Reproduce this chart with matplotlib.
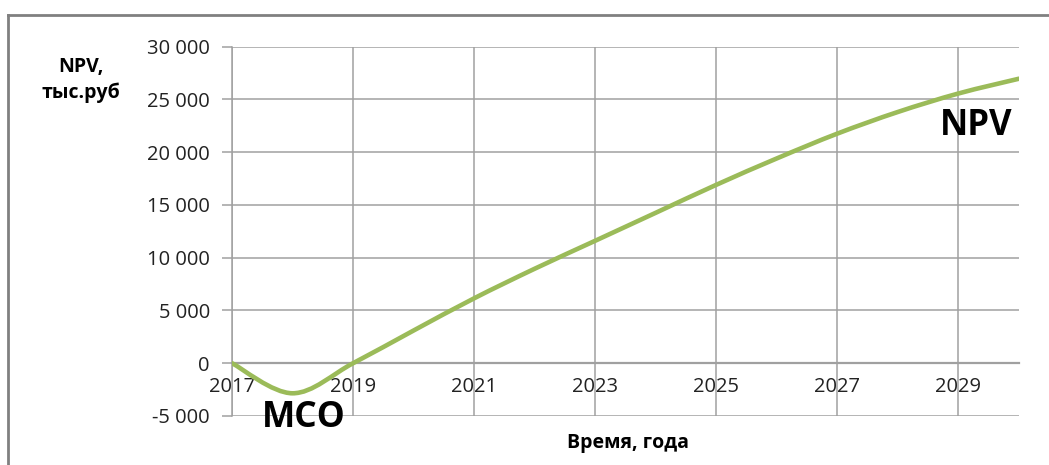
import matplotlib
matplotlib.use("Agg")
import matplotlib.pyplot as plt
from matplotlib.path import Path
from matplotlib.patches import PathPatch
from matplotlib.lines import Line2D
from matplotlib.ticker import FuncFormatter

# NPV по годам, тыс. руб
years = [2017, 2018, 2019, 2020, 2021, 2022, 2023, 2024, 2025, 2026, 2027, 2028, 2029, 2030]
npv = [0, -2850, 0, 3100, 6150, 8950, 11600, 14250, 16900, 19400, 21750, 23800, 25550, 26950]

x_ticks = [2017, 2019, 2021, 2023, 2025, 2027, 2029]
y_ticks = [-5000, 0, 5000, 10000, 15000, 20000, 25000, 30000]

GREEN = "#9BBB59"
GRID = "#A0A0A0"

plt.rcParams["font.family"] = ["Open Sans", "DejaVu Sans"]


def smooth_path(xs, ys):
    """Smoothed line through the points (Catmull-Rom style cubic Bezier)."""
    pts = list(zip(xs, ys))
    verts = [pts[0]]
    codes = [Path.MOVETO]
    n = len(pts)
    for i in range(n - 1):
        p0 = pts[i - 1] if i > 0 else pts[i]
        p1 = pts[i]
        p2 = pts[i + 1]
        p3 = pts[i + 2] if i + 2 < n else pts[i + 1]
        c1 = (p1[0] + (p2[0] - p0[0]) / 6, p1[1] + (p2[1] - p0[1]) / 6)
        c2 = (p2[0] - (p3[0] - p1[0]) / 6, p2[1] - (p3[1] - p1[1]) / 6)
        verts += [c1, c2, p2]
        codes += [Path.CURVE4] * 3
    return Path(verts, codes)


fig = plt.figure(figsize=(10.49, 4.65), dpi=100)
ax = fig.add_axes([0.2212, 0.1054, 0.7502, 0.7946])

ax.add_patch(PathPatch(smooth_path(years, npv), fill=False, edgecolor=GREEN,
                       lw=3.3, capstyle="round", zorder=3))

ax.set_xlim(2017, 2030)
ax.set_ylim(-5000, 30000)
ax.set_xticks(x_ticks)
ax.set_yticks(y_ticks)
ax.yaxis.set_major_formatter(FuncFormatter(lambda v, _: f"{int(v):,}".replace(",", " ")))

ax.grid(True, color=GRID, lw=1.1)
ax.set_axisbelow(True)

for s in ("top", "right"):
    ax.spines[s].set_visible(False)
ax.spines["bottom"].set_position(("data", 0))
ax.spines["bottom"].set_color(GRID)
ax.spines["bottom"].set_linewidth(1.6)
ax.spines["left"].set_color(GRID)
ax.spines["left"].set_linewidth(1.1)

ax.tick_params(axis="y", length=7, width=1.1, color=GRID, labelsize=14.5,
               labelcolor="#222222", pad=9)
ax.tick_params(axis="x", length=0, labelsize=14.5, labelcolor="#222222", pad=10)

# подписи осей
fig.text(81 / 1049, 1 - 80 / 465, "NPV,\nтыс.руб", ha="center", va="center",
         fontsize=14, fontweight="bold", linespacing=1.4)
fig.text(628 / 1049, 1 - 443 / 465, "Время, года", ha="center", va="center",
         fontsize=14, fontweight="bold")

# надписи на поле графика
fig.text(976 / 1049, 1 - 126 / 465, "NPV", ha="center", va="center",
         fontsize=25, fontweight="bold")
fig.text(304 / 1049, 1 - 418 / 465, "МСО", ha="center", va="center",
         fontsize=25.5, fontweight="bold")

# рамка области диаграммы
fig.add_artist(Line2D([8 / 1049, 8 / 1049], [0, 1 - 15 / 465], color="#808080", lw=2))
fig.add_artist(Line2D([8 / 1049, 1], [1 - 15 / 465, 1 - 15 / 465], color="#808080", lw=2))

fig.savefig("out.png", dpi=100)
